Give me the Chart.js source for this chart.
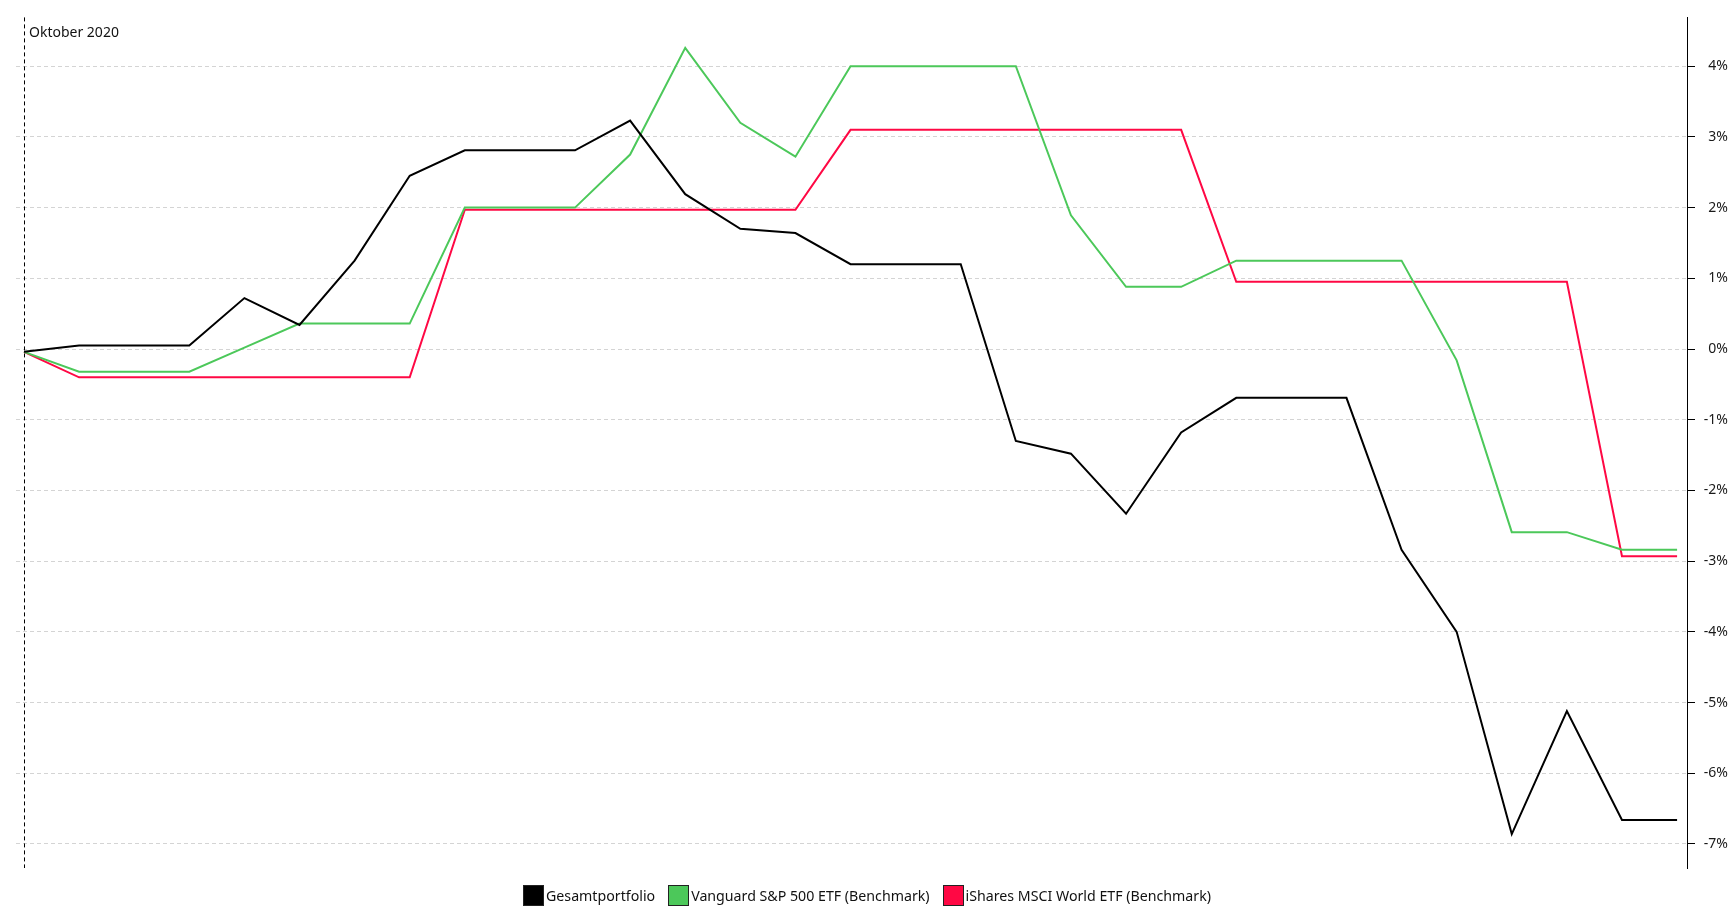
<!DOCTYPE html>
<html>
<head>
<meta charset="utf-8">
<script src="https://cdn.jsdelivr.net/npm/chart.js@4.4.1/dist/chart.umd.min.js"></script>
<style>
  html, body { margin: 0; padding: 0; background: #fff; }
  #wrap { position: relative; width: 1734px; height: 910px; }
  #legende {
    position: absolute; left: 0; top: 885px; width: 1734px;
    display: flex; justify-content: center; align-items: center;
    font: 14.2px "Noto Sans", sans-serif; color: #111;
  }
  .eintrag { display: flex; align-items: center; margin: 0 6.5px; }
  .kasten { width: 21px; height: 21px; box-sizing: border-box; border: 1px solid #222; margin-right: 2px; }
</style>
</head>
<body>
<div id="wrap">
  <canvas id="myChart" width="1734" height="910"></canvas>
  <div id="legende"></div>
</div>
<script>
const monatLabel = 'Oktober 2020'

// Tage im Oktober
const tage = [1, 2, 3, 4, 5, 6, 7, 8, 9, 10, 11, 12, 13, 14, 15, 16, 17, 18, 19, 20, 21, 22, 23, 24, 25, 26, 27, 28, 29, 30, 31]

// Performance in %
const gesamtportfolio = [-0.04, 0.05, 0.05, 0.05, 0.72, 0.34, 1.25, 2.45, 2.81, 2.81, 2.81, 3.23, 2.19, 1.70, 1.64, 1.20,
  1.20, 1.20, -1.30, -1.48, -2.33, -1.18, -0.69, -0.69, -0.69, -2.84, -4.00, -6.86, -5.12, -6.66, -6.66]
const vanguardSP500 = [-0.04, -0.32, -0.32, -0.32, 0.02, 0.36, 0.36, 0.36, 2.00, 2.00, 2.00, 2.75, 4.26, 3.20, 2.72, 4.00,
  4.00, 4.00, 4.00, 1.89, 0.88, 0.88, 1.25, 1.25, 1.25, 1.25, -0.16, -2.59, -2.59, -2.84, -2.84]
const isharesWorld = [-0.04, -0.40, -0.40, -0.40, -0.40, -0.40, -0.40, -0.40, 1.97, 1.97, 1.97, 1.97, 1.97, 1.97, 1.97, 3.10,
  3.10, 3.10, 3.10, 3.10, 3.10, 3.10, 0.95, 0.95, 0.95, 0.95, 0.95, 0.95, 0.95, -2.93, -2.93]

const yTicks = [4, 3, 2, 1, 0, -1, -2, -3, -4, -5, -6, -7]

const serienNamen = ['Gesamtportfolio', 'Vanguard S&P 500 ETF (Benchmark)', 'iShares MSCI World ETF (Benchmark)']
const serienFarben = ['#000000', '#4cc85a', '#ff0844']
const serienWerte = [gesamtportfolio, vanguardSP500, isharesWorld]

const datasets = serienWerte.map((werte, i) => ({
    label: serienNamen[i],
    data: werte.map((v, j) => ({ x: tage[j], y: v })),
    borderColor: serienFarben[i],
    backgroundColor: serienFarben[i],
    borderWidth: 2,
    pointRadius: 0,
    tension: 0,
    fill: false
}))

const monatsMarker = {
    id: 'monatsMarker',
    beforeDatasetsDraw(chart) {
        const { ctx, chartArea, scales } = chart
        const x = Math.round(scales.x.getPixelForValue(tage[0])) + 0.5
        ctx.save()
        ctx.strokeStyle = '#000'
        ctx.lineWidth = 1
        ctx.setLineDash([4, 3])
        ctx.beginPath()
        ctx.moveTo(x, chartArea.top)
        ctx.lineTo(x, chartArea.bottom)
        ctx.stroke()
        ctx.setLineDash([])
        ctx.fillStyle = '#111'
        ctx.font = '14px "Noto Sans"'
        ctx.textBaseline = 'middle'
        ctx.fillText(monatLabel, x + 4.5, chartArea.top + 16)
        ctx.restore()
    }
}

const config = {
    type: 'line',
    data: { datasets },
    options: {
        responsive: false,
        animation: false,
        layout: { padding: { left: 16, right: 6, top: 16, bottom: 42 } },
        plugins: { legend: { display: false }, tooltip: { enabled: false } },
        scales: {
            x: {
                type: 'linear',
                display: false,
                min: 0.855,
                max: 31.18
            },
            y: {
                position: 'right',
                min: -7.34,
                max: 4.69,
                afterBuildTicks: (scale) => { scale.ticks = yTicks.map(v => ({ value: v })) },
                afterFit: (scale) => { scale.width = 41 },
                grid: {
                    color: '#d4d4d4',
                    lineWidth: 1,
                    tickLength: 8,
                    tickColor: '#000',
                    tickBorderDash: []
                },
                border: { display: true, color: '#000', width: 1, dash: [4, 3] },
                ticks: {
                    padding: 9,
                    crossAlign: 'far',
                    color: '#1a1a1a',
                    font: { family: 'Noto Sans', size: 14 },
                    callback: (v) => v + '%'
                }
            }
        }
    },
    plugins: [monatsMarker]
}

new Chart(document.getElementById('myChart'), config)

// Legende
const legende = document.getElementById('legende')
serienNamen.forEach((name, i) => {
    legende.innerHTML += `
        <div class="eintrag"><span class="kasten" style="background:${serienFarben[i]}"></span><span>${name.replace('&', '&amp;')}</span></div>
    `
})
</script>
</body>
</html>
